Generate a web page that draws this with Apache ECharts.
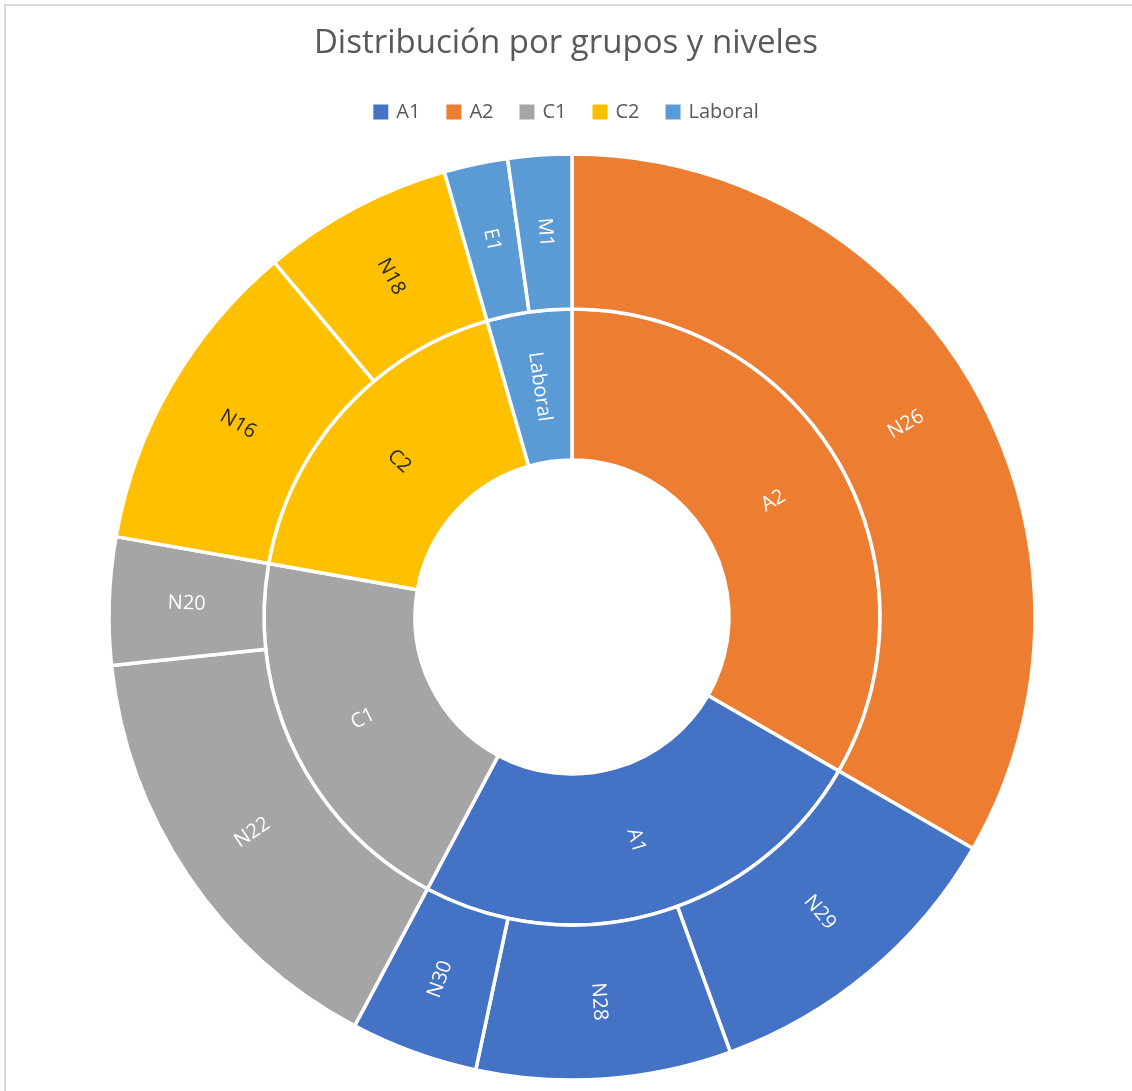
<!DOCTYPE html>
<html>
<head>
<meta charset="utf-8">
<title>Distribución por grupos y niveles</title>
<script src="https://cdn.jsdelivr.net/npm/echarts@6/dist/echarts.min.js"></script>
<style>
  html, body { margin: 0; padding: 0; background: #fff; }
  #main { width: 1132px; height: 1091px; }
</style>
</head>
<body>
<div id="main"></div>
<script>
// grupos (anillo interior), en orden horario desde arriba
var groups = ["A2", "A1", "C1", "C2", "Laboral"];
// niveles (anillo exterior) por grupo
var levelNames = [
  ["N26"],
  ["N29", "N28", "N30"],
  ["N22", "N20"],
  ["N16", "N18"],
  ["E1", "M1"]
];
var levelValues = [
  [15],
  [5, 4, 2],
  [7, 2],
  [5, 3],
  [1, 1]
];
var legendNames = ["A1", "A2", "C1", "C2", "Laboral"];

var colorMap = {
  A1: "#4472C4",
  A2: "#ED7D31",
  C1: "#A5A5A5",
  C2: "#FFC000",
  Laboral: "#5B9BD5"
};
var labelColorMap = {
  A1: "#fff",
  A2: "#fff",
  C1: "#fff",
  C2: "#262626",
  Laboral: "#fff"
};

var font = "'Open Sans', 'Noto Sans', sans-serif";

var sunData = [];
for (var i = 0; i < groups.length; i++) {
  var g = groups[i];
  var children = [];
  for (var j = 0; j < levelNames[i].length; j++) {
    children.push({
      name: levelNames[i][j],
      value: levelValues[i][j],
      itemStyle: { color: colorMap[g] },
      label: { color: labelColorMap[g] }
    });
  }
  sunData.push({
    name: g,
    itemStyle: { color: colorMap[g] },
    label: { color: labelColorMap[g] },
    children: children
  });
}

// serie auxiliar invisible solo para la leyenda
var legendData = [];
for (var k = 0; k < legendNames.length; k++) {
  legendData.push({
    name: legendNames[k],
    value: 1,
    itemStyle: { color: colorMap[legendNames[k]] }
  });
}

var myChart = echarts.init(document.getElementById("main"));

var option = {
  animation: false,
  title: {
    text: "Distribución por grupos y niveles",
    left: "center",
    top: 27,
    padding: 0,
    textStyle: {
      fontFamily: font,
      fontSize: 33,
      fontWeight: "normal",
      color: "#595959"
    }
  },
  legend: {
    data: legendNames,
    top: 102,
    left: "center",
    padding: 0,
    icon: "rect",
    itemWidth: 15,
    itemHeight: 15,
    itemGap: 26,
    selectedMode: false,
    textStyle: {
      fontFamily: font,
      fontSize: 20,
      color: "#595959",
      padding: [0, 0, 0, 3]
    }
  },
  graphic: [
    {
      type: "rect",
      shape: { x: 5, y: 5, width: 1200, height: 1200 },
      style: { fill: null, stroke: "#D9D9D9", lineWidth: 2 },
      silent: true
    }
  ],
  series: [
    {
      type: "pie",
      radius: [0, 0],
      center: [572, 617],
      silent: true,
      label: { show: false },
      labelLine: { show: false },
      data: legendData
    },
    {
      type: "sunburst",
      center: [572, 617],
      sort: null,
      startAngle: 90,
      nodeClick: false,
      data: sunData,
      itemStyle: {
        borderColor: "#fff",
        borderWidth: 3.5
      },
      label: {
        rotate: "radial",
        fontFamily: font,
        fontSize: 20,
        color: "#fff"
      },
      emphasis: { focus: "none" },
      levels: [
        {},
        { r0: 157, r: 308 },
        { r0: 308, r: 463 }
      ]
    }
  ]
};

myChart.setOption(option);
</script>
</body>
</html>
